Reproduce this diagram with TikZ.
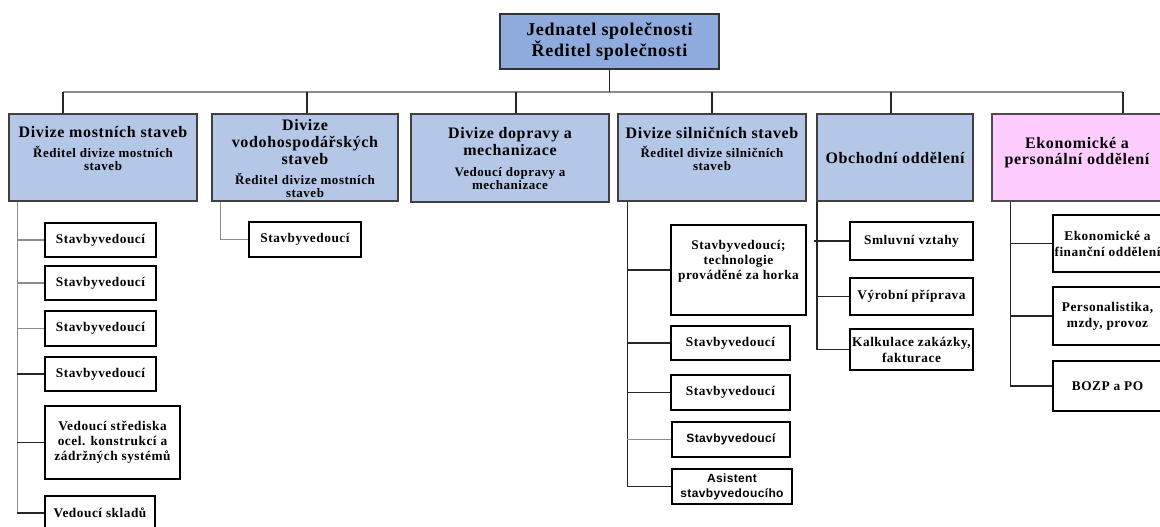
\documentclass[tikz,border=0pt]{standalone}
\usepackage{fontspec}
\setmainfont{Liberation Serif}[LetterSpace=4]
\newfontfamily\vsans{Liberation Sans}[LetterSpace=3]
\definecolor{topblue}{HTML}{8FAADC}
\definecolor{divblue}{HTML}{B4C7E7}
\definecolor{divpink}{HTML}{FFCCFF}
\newcommand\fTop{\bfseries\fontsize{18}{21.5}\selectfont}
\newcommand\fDiv{\bfseries\fontsize{16}{17}\selectfont}
\newcommand\fSub{\bfseries\fontsize{13}{13.5}\selectfont}
\newcommand\fCh{\bfseries\fontsize{13.3}{16}\selectfont}
\newcommand\fSans{\vsans\bfseries\fontsize{12}{15}\selectfont}
\newcommand\tbox[4]{\parbox[c][#1][t]{#2}{\centering\rule{0pt}{#3}#4}}
\begin{document}
\begin{tikzpicture}[x=1pt,y=-1pt,
  box/.style={line width=1.2pt, inner sep=0pt, align=center},
  topbox/.style={box, fill=topblue, draw=black!80},
  divbox/.style={box, fill=divblue, draw=black!75},
  pinkbox/.style={box, fill=divpink, draw=black!70},
  chbox/.style={box, fill=white, draw=black, font=\fCh},
  sbox/.style={box, fill=white, draw=black, font=\fSans},
  ln/.style={line width=1.2pt, draw=black!85},
  lng/.style={line width=1.2pt, draw=black!45},
]
\useasboundingbox (0,0) rectangle (1160,527);

% top
\node[topbox, minimum width=219pt, minimum height=55pt, font=\fTop] (top) at (609.5,41.5)
  {Jednatel společnosti\\Ředitel společnosti};

% divisions
\node[divbox, minimum width=188pt, minimum height=87pt] (d1) at (103,157.5)
  {\tbox{87pt}{188pt}{23.3pt}{\fDiv Divize mostních staveb\par\vspace{6.5pt}\fSub Ředitel divize mostních\\staveb}};
\node[divbox, minimum width=186pt, minimum height=87pt] (d2) at (305,157.5)
  {\tbox{87pt}{186pt}{16.3pt}{\fDiv Divize\\vodohospodářských\\staveb\par\vspace{6.5pt}\fSub Ředitel divize mostních\\staveb}};
\node[divbox, minimum width=198pt, minimum height=88pt] (d3) at (510,158)
  {\tbox{88pt}{198pt}{24.3pt}{\fDiv Divize dopravy a\\mechanizace\par\vspace{7.5pt}\fSub Vedoucí dopravy a\\mechanizace}};
\node[divbox, minimum width=188pt, minimum height=87pt] (d4) at (712,157.5)
  {\tbox{87pt}{188pt}{24.3pt}{\fDiv Divize silničních staveb\par\vspace{5.5pt}\fSub Ředitel divize silničních\\staveb}};
\node[divbox, minimum width=156pt, minimum height=87pt, font=\fDiv] (d5) at (895,157.5)
  {Obchodní oddělení};
\node[pinkbox, minimum width=170pt, minimum height=87pt] (d6) at (1077,157.5)
  {\tbox{87pt}{170pt}{34.3pt}{\bfseries\fontsize{16}{16}\selectfont Ekonomické a\\personální oddělení}};

% bar and drops
\coordinate (bl) at (63,92);
\coordinate (br) at (1123,92);
\draw[lng] (bl) -- (br);
\draw[ln] (top.south) -- (top.south |- bl);
\draw[ln] (bl) -- (bl |- d1.north);
\draw[ln] ([xshift=2pt]d2.north) -- ([xshift=2pt]d2.north |- bl);
\draw[ln] ([xshift=6pt]d3.north) -- ([xshift=6pt]d3.north |- bl);
\draw[ln] (d4.north) -- (d4.north |- bl);
\draw[ln] ([xshift=-4pt]d5.north) -- ([xshift=-4pt]d5.north |- bl);
\draw[ln] (br) -- (br |- d6.north);

% division 1 children
\node[chbox, minimum width=111pt, minimum height=34pt] (c11) at (100.5,240) {Stavbyvedoucí};
\node[chbox, minimum width=111pt, minimum height=34pt] (c12) at (100.5,283) {Stavbyvedoucí};
\node[chbox, minimum width=111pt, minimum height=35pt] (c13) at (100.5,328.5) {Stavbyvedoucí};
\node[chbox, minimum width=111pt, minimum height=34pt] (c14) at (100.5,374) {Stavbyvedoucí};
\node[chbox, minimum width=135pt, minimum height=73pt, font=\bfseries\fontsize{13.3}{15}\selectfont] (c15) at (112.5,442.5)
  {Vedoucí střediska\\ocel. konstrukcí a\\zádržných systémů};
\node[chbox, minimum width=110pt, minimum height=34pt] (c16) at (100,513) {Vedoucí skladů};
\coordinate (v1) at ([xshift=9pt]d1.south west);
\draw[lng] (v1) -- (v1 |- c16.west);
\draw[lng] (v1 |- c11.west) -- (c11.west);
\draw[lng] (v1 |- c12.west) -- (c12.west);
\draw[lng] (v1 |- c13.west) -- (c13.west);
\draw[ln] (v1 |- c14.west) -- (c14.west);
\draw[ln] (v1 |- c15.west) -- (c15.west);
\draw[ln] (v1 |- c16.west) -- (c16.west);

% division 2 child
\node[chbox, minimum width=112pt, minimum height=35pt] (c21) at (305,239.5) {Stavbyvedoucí};
\coordinate (v2) at ([xshift=9pt]d2.south west);
\draw[lng] (v2) |- (c21.west);

% division 4 children
\node[chbox, minimum width=135pt, minimum height=90pt] (c41) at (738.5,270)
  {\tbox{90pt}{135pt}{24.4pt}{\bfseries\fontsize{13.3}{15}\selectfont Stavbyvedoucí;\\technologie\\prováděné za horka}};
\node[chbox, minimum width=119pt, minimum height=34pt] (c42) at (730.5,343) {Stavbyvedoucí};
\node[chbox, minimum width=119pt, minimum height=35pt] (c43) at (730.5,392.5) {Stavbyvedoucí};
\node[sbox, minimum width=118pt, minimum height=35pt] (c44) at (731,439.5) {Stavbyvedoucí};
\node[sbox, minimum width=120pt, minimum height=35pt] (c45) at (732,486.5) {Asistent\\stavbyvedoucího};
\coordinate (v4) at ([xshift=10pt]d4.south west);
\draw[ln] (v4) -- (v4 |- c45.west);
\draw[ln] (v4 |- c41.west) -- (c41.west);
\draw[ln] (v4 |- c42.west) -- (c42.west);
\draw[ln] (v4 |- c43.west) -- (c43.west);
\draw[lng] (v4 |- c44.west) -- (c44.west);
\draw[ln] (v4 |- c45.west) -- (c45.west);

% division 5 children
\node[chbox, minimum width=123pt, minimum height=38pt] (c51) at (911.5,241) {Smluvní vztahy};
\node[chbox, minimum width=123pt, minimum height=37pt] (c52) at (911.5,296.5) {Výrobní příprava};
\node[chbox, minimum width=123pt, minimum height=41pt] (c53) at (911.5,349.5) {Kalkulace zakázky,\\fakturace};
\coordinate (v5) at ([xshift=0.6pt]d5.south west);
\draw[ln] (v5) -- (v5 |- c53.west);
\draw[ln] ([xshift=-3pt]v5 |- c51.west) -- (c51.west);
\draw[ln] (v5 |- c52.west) -- (c52.west);
\draw[ln] (v5 |- c53.west) -- (c53.west);

% division 6 children
\node[chbox, minimum width=109pt, minimum height=57pt] (c61) at (1107.5,243.5) {Ekonomické a\\finanční oddělení};
\node[chbox, minimum width=109pt, minimum height=58pt] (c62) at (1107.5,316) {Personalistika,\\mzdy, provoz};
\node[chbox, minimum width=109pt, minimum height=50pt] (c63) at (1107.5,386) {BOZP a PO};
\coordinate (v6) at ([xshift=19pt]d6.south west);
\draw[ln] (v6) -- (v6 |- c63.west);
\draw[ln] (v6 |- c61.west) -- (c61.west);
\draw[ln] (v6 |- c62.west) -- (c62.west);
\draw[ln] (v6 |- c63.west) -- (c63.west);
\end{tikzpicture}
\end{document}
